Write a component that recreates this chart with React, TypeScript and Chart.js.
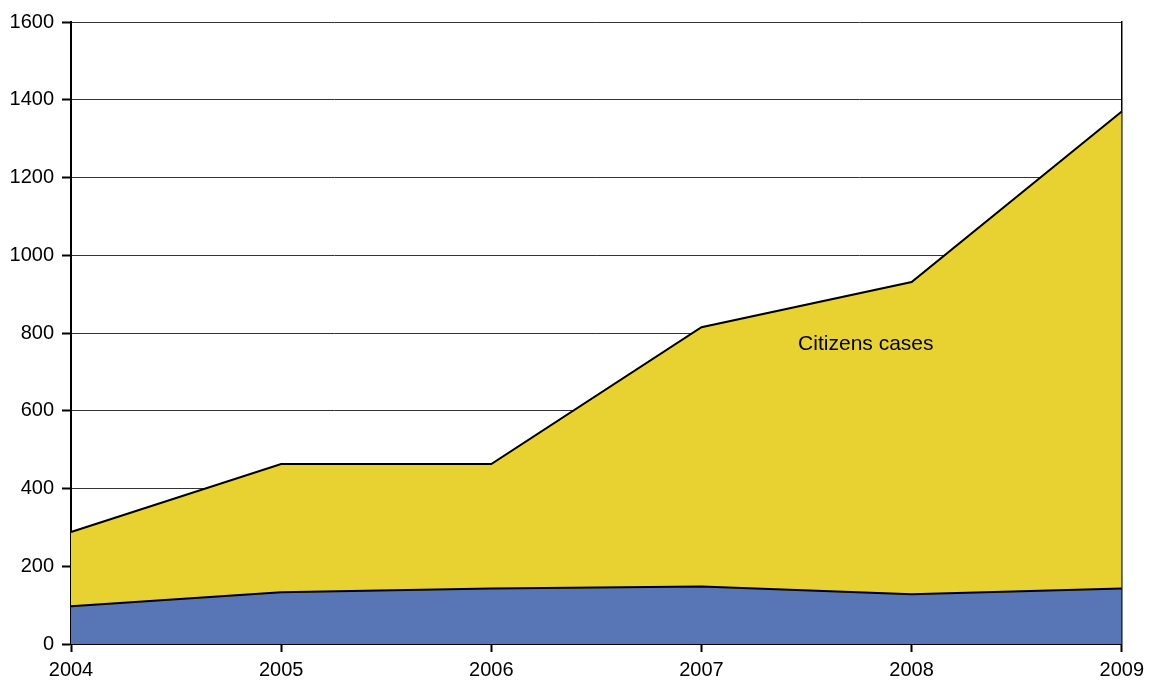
import React, { useEffect, useRef } from "react";
import { Chart, registerables } from "chart.js";

Chart.register(...registerables);

const years = ["2004", "2005", "2006", "2007", "2008", "2009"];
const otherCases = [97, 133, 143, 148, 128, 143];
const citizensCases = [191, 330, 320, 667, 803, 1227];
const yTicks = [0, 200, 400, 600, 800, 1000, 1200, 1400, 1600];
const seriesLabel = "Citizens cases";

const FONT = "'Liberation Sans', Arial, sans-serif";

const labelPlugin = {
  id: "areaLabel",
  afterDatasetsDraw(chart: any) {
    const { ctx, scales } = chart;
    const x = scales.x.getPixelForValue(3.46);
    const y = scales.y.getPixelForValue(770);
    ctx.save();
    ctx.font = `21px ${FONT}`;
    ctx.fillStyle = "#000";
    ctx.textAlign = "left";
    ctx.textBaseline = "middle";
    ctx.fillText(seriesLabel, x, y);
    ctx.restore();
  },
};

export default function App() {
  const ref = useRef<HTMLCanvasElement>(null);
  useEffect(() => {
    if (!ref.current) return;
    const chart = new Chart(ref.current, {
      type: "line",
      data: {
        labels: years,
        datasets: [
          {
            label: "Other cases",
            data: otherCases,
            backgroundColor: "#5876B5",
            borderColor: "#000",
            borderWidth: 2,
            fill: "origin",
            pointRadius: 0,
            tension: 0,
          },
          {
            label: seriesLabel,
            data: citizensCases,
            backgroundColor: "#E8D232",
            borderColor: "#000",
            borderWidth: 2,
            fill: "-1",
            pointRadius: 0,
            tension: 0,
          },
        ],
      },
      plugins: [labelPlugin],
      options: {
        animation: false,
        responsive: false,
        maintainAspectRatio: false,
        layout: { padding: { left: 0, right: 28, top: 22, bottom: 0 } },
        plugins: { legend: { display: false }, tooltip: { enabled: false } },
        scales: {
          x: {
            type: "category",
            offset: false,
            grid: {
              drawOnChartArea: false,
              drawTicks: true,
              tickLength: 8,
              tickColor: "#000",
              tickWidth: 2,
            },
            border: { color: "#000", width: 2 },
            ticks: {
              color: "#000",
              font: { family: FONT, size: 20 },
              padding: 6,
              maxRotation: 0,
              autoSkip: false,
            },
            afterFit: (s: any) => {
              s.height = 36;
            },
          },
          y: {
            stacked: true,
            min: 0,
            max: 1600,
            afterBuildTicks: (s: any) => {
              s.ticks = yTicks.map((v) => ({ value: v }));
            },
            grid: {
              color: "#333",
              lineWidth: 1,
              drawTicks: true,
              tickLength: 9,
              tickColor: "#000",
              tickWidth: 2,
            },
            border: { color: "#000", width: 2 },
            ticks: {
              color: "#000",
              font: { family: FONT, size: 20 },
              padding: 8,
              callback: (v: any) => String(v),
            },
            afterFit: (s: any) => {
              s.width = 71;
            },
          },
          yRight: {
            position: "right",
            min: 0,
            max: 1600,
            grid: { display: false, drawTicks: false },
            border: { color: "#000", width: 1.5 },
            ticks: { display: false },
            afterFit: (s: any) => {
              s.width = 0;
            },
          },
        },
      },
    } as any);
    return () => chart.destroy();
  }, []);
  return (
    <div style={{ position: "fixed", left: 0, top: 0, width: 1150, height: 680, background: "#fff" }}>
      <canvas ref={ref} width={1150} height={680} style={{ display: "block" }} />
    </div>
  );
}
